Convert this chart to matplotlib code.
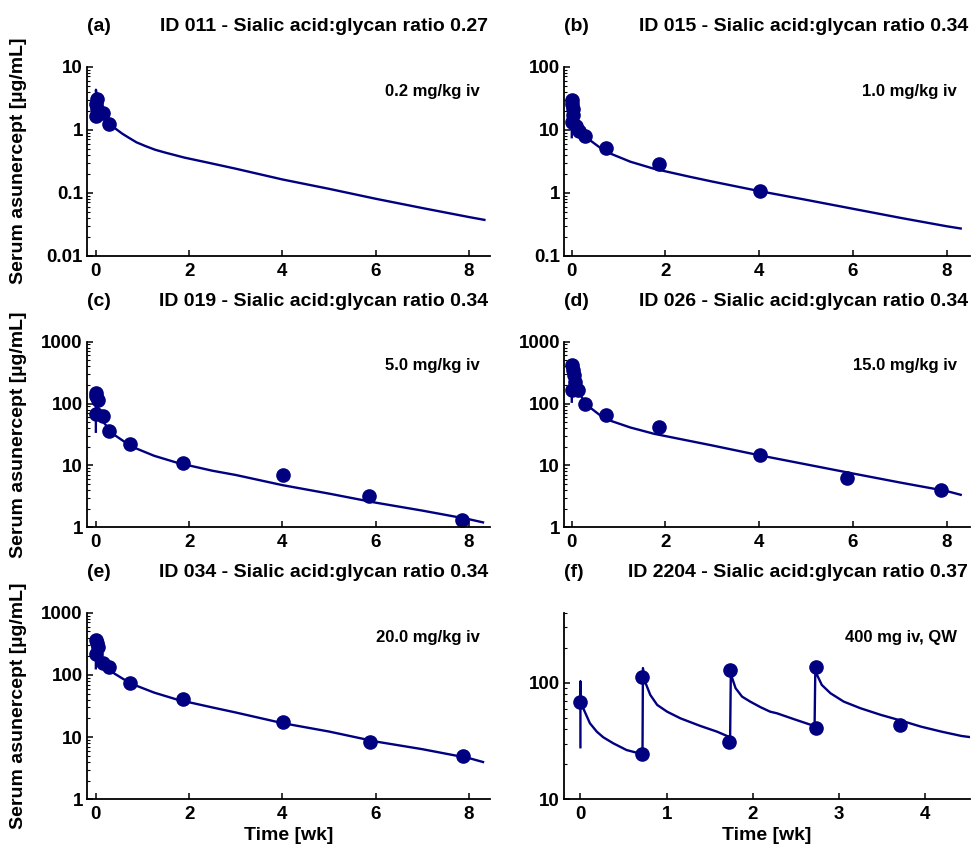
import numpy as np
import matplotlib
matplotlib.use("Agg")
import matplotlib.pyplot as plt
from matplotlib.ticker import LogLocator, NullFormatter, FixedLocator

plt.rcParams['font.family'] = ['Liberation Sans', 'DejaVu Sans']
plt.rcParams['font.weight'] = 'bold'

NAVY = '#000080'

# ---- panel texts ----
panelTags = ['(a)', '(b)', '(c)', '(d)', '(e)', '(f)']
panelTitles = ['ID 011 - Sialic acid:glycan ratio 0.27',
               'ID 015 - Sialic acid:glycan ratio 0.34',
               'ID 019 - Sialic acid:glycan ratio 0.34',
               'ID 026 - Sialic acid:glycan ratio 0.34',
               'ID 034 - Sialic acid:glycan ratio 0.34',
               'ID 2204 - Sialic acid:glycan ratio 0.37']
doseLabels = ['0.2 mg/kg iv', '1.0 mg/kg iv', '5.0 mg/kg iv',
              '15.0 mg/kg iv', '20.0 mg/kg iv', '400 mg iv, QW']

# ---- observed concentrations (time in wk, conc in ug/mL) ----
obsT_a = [0.02, 0.01, 0.02, 0.0, 0.16, 0.29]
obsC_a = [3.05, 2.6, 2.1, 1.66, 1.87, 1.22]

obsT_b = [0.0, 0.01, 0.02, 0.03, 0.0, 0.1, 0.15, 0.29, 0.73, 1.87, 4.01]
obsC_b = [30, 26, 21, 17, 13.2, 11.5, 9.5, 7.8, 5.1, 2.8, 1.08]

obsT_c = [0.0, 0.01, 0.05, 0.0, 0.16, 0.29, 0.74, 1.86, 4.02, 5.86, 7.86]
obsC_c = [148, 130, 115, 67, 62, 36, 22.5, 10.8, 7.0, 3.25, 1.3]

obsT_d = [0.0, 0.02, 0.04, 0.06, 0.0, 0.14, 0.29, 0.73, 1.87, 4.02, 5.88, 7.88]
obsC_d = [420, 345, 290, 225, 165, 165, 100, 66, 41, 15, 6.3, 4.0]

obsT_e = [0.01, 0.02, 0.04, 0.0, 0.16, 0.29, 0.74, 1.86, 4.02, 5.88, 7.88]
obsC_e = [360, 330, 285, 215, 155, 133, 73, 40.5, 17.4, 8.2, 4.9]

obsT_f = [0.0, 0.71, 0.72, 1.72, 1.74, 2.73, 2.73, 3.71]
obsC_f = [69, 24.6, 113, 31.3, 129, 40.8, 138, 43.6]

# ---- model predictions ----
fitT_a = [0.0, 0.002, 0.03, 0.08, 0.15, 0.3, 0.38, 0.45, 0.57, 0.7, 0.87, 1.06, 1.27, 1.5,
          1.9, 2.4, 3.0, 4.0, 5.0, 6.0, 7.0, 8.0, 8.33]
fitC_a = [1.5, 4.3, 2.9, 2.2, 1.7, 1.22, 1.1, 1.0, 0.86, 0.75, 0.63, 0.55, 0.48, 0.43,
          0.36, 0.30, 0.24, 0.162, 0.115, 0.080, 0.057, 0.041, 0.037]

fitT_b = [0.0, 0.002, 0.03, 0.08, 0.15, 0.3, 0.4, 0.6, 0.85, 1.25, 1.75, 2.5,
          3.0, 4.0, 5.0, 6.0, 7.0, 8.0, 8.3]
fitC_b = [7.6, 31, 20, 13, 10.2, 7.9, 6.7, 5.2, 4.1, 3.1, 2.4, 1.8,
          1.5, 1.06, 0.77, 0.555, 0.40, 0.293, 0.27]

fitT_c = [0.0, 0.002, 0.03, 0.09, 0.18, 0.3, 0.4, 0.6, 0.85, 1.25, 1.75, 2.5,
          3.0, 4.0, 5.0, 6.0, 7.0, 8.0, 8.3]
fitC_c = [35, 150, 95, 64, 48, 38, 31, 24.5, 19, 14.3, 11, 8.2,
          7.0, 4.8, 3.5, 2.5, 1.86, 1.35, 1.2]

fitT_d = [0.0, 0.002, 0.03, 0.08, 0.15, 0.3, 0.4, 0.6, 0.85, 1.25, 1.75, 2.5,
          3.0, 4.0, 5.0, 6.0, 7.0, 8.0, 8.3]
fitC_d = [107, 420, 280, 200, 150, 100, 85, 65, 52, 41, 32.5, 25,
          21, 14.6, 10.4, 7.4, 5.3, 3.85, 3.35]

fitT_e = [0.0, 0.002, 0.03, 0.1, 0.18, 0.3, 0.4, 0.6, 0.85, 1.25, 1.75, 2.5,
          3.0, 4.0, 5.0, 6.0, 7.0, 8.0, 8.3]
fitC_e = [128, 380, 260, 175, 145, 120, 105, 85, 68, 52, 40, 30,
          24.9, 16.8, 12.3, 8.5, 6.4, 4.6, 3.98]

fitT_f = [0.0, 0.0, 0.0, 0.05, 0.11, 0.19, 0.265, 0.38, 0.535, 0.71,
          0.72, 0.725, 0.755, 0.81, 0.89, 1.005, 1.16, 1.39, 1.585, 1.72,
          1.736, 1.745, 1.76, 1.80, 1.875, 1.97, 2.09, 2.2, 2.28, 2.48, 2.71,
          2.716, 2.725, 2.745, 2.80, 2.90, 3.055, 3.25, 3.485, 3.72, 3.95, 4.19, 4.42, 4.535]
fitC_f = [28, 102.6, 69, 56.6, 45, 38.1, 34.1, 30.3, 26.5, 24.5,
          24.5, 134, 100, 78.9, 64.7, 56.6, 49.6, 42.7, 38.1, 34.5,
          31.5, 129, 110, 90, 76.2, 69, 61.8, 56.6, 54.8, 48.7, 42.7,
          41, 138, 117, 96, 81.5, 69, 60.5, 53.1, 47.4, 42.1, 38.1, 35, 34.1]

obsT = [obsT_a, obsT_b, obsT_c, obsT_d, obsT_e, obsT_f]
obsC = [obsC_a, obsC_b, obsC_c, obsC_d, obsC_e, obsC_f]
fitT = [fitT_a, fitT_b, fitT_c, fitT_d, fitT_e, fitT_f]
fitC = [fitC_a, fitC_b, fitC_c, fitC_d, fitC_e, fitC_f]

yLims = [(0.01, 10), (0.1, 100), (1, 1000), (1, 1000), (1, 1000), (10, 400)]
yTicks = [[0.01, 0.1, 1, 10], [0.1, 1, 10, 100], [1, 10, 100, 1000],
          [1, 10, 100, 1000], [1, 10, 100, 1000], [10, 100]]
yTickLabels = [['0.01', '0.1', '1', '10'], ['0.1', '1', '10', '100'],
               ['1', '10', '100', '1000'], ['1', '10', '100', '1000'],
               ['1', '10', '100', '1000'], ['10', '100']]
xLims = [(-0.19, 8.45), (-0.165, 8.5), (-0.19, 8.45), (-0.165, 8.5), (-0.19, 8.45), (-0.19, 4.52)]
xTicks = [[0, 2, 4, 6, 8]] * 5 + [[0, 1, 2, 3, 4]]

# axes boxes in figure fractions
colLeft = [0.0894, 0.5797]
colWidth = [0.4142, 0.4173]
rowBottom = [0.6985, 0.3782, 0.0574]
rowHeight = [0.2229, 0.2189, 0.2200]

fig = plt.figure(figsize=(9.73, 8.48), dpi=100)

for i in range(6):
    r, c = divmod(i, 2)
    ax = fig.add_axes([colLeft[c], rowBottom[r], colWidth[c], rowHeight[r]])
    ax.plot(fitT[i], fitC[i], color=NAVY, lw=1.7)
    ax.plot(obsT[i], obsC[i], 'o', color=NAVY, ms=9.5, mec=NAVY)
    ax.set_yscale('log')
    ax.set_ylim(*yLims[i])
    ax.set_xlim(*xLims[i])
    ax.yaxis.set_major_locator(FixedLocator(yTicks[i]))
    ax.set_yticklabels(yTickLabels[i])
    ax.yaxis.set_minor_locator(LogLocator(base=10, subs=np.arange(2, 10)))
    ax.yaxis.set_minor_formatter(NullFormatter())
    ax.set_xticks(xTicks[i])
    for s in ['top', 'right']:
        ax.spines[s].set_visible(False)
    for s in ['left', 'bottom']:
        ax.spines[s].set_linewidth(1.3)
    ax.tick_params(axis='both', which='major', direction='in', length=4, width=1.1,
                   labelsize=13.5, pad=5)
    ax.tick_params(axis='y', which='major', pad=3)
    ax.tick_params(axis='y', which='minor', direction='in', length=2, width=0.8)
    for lab in ax.get_xticklabels() + ax.get_yticklabels():
        lab.set_fontweight('bold')

    ax.text(0.975 if c == 0 else 0.968, 0.87, doseLabels[i], transform=ax.transAxes,
            ha='right', va='center', fontsize=12, fontweight='bold')

    if c == 0:
        ax.set_ylabel('Serum asunercept [µg/mL]', fontsize=14, fontweight='bold')
        ax.yaxis.set_label_coords(-0.15, 0.5)
    if r == 2:
        ax.set_xlabel('Time [wk]', fontsize=14, fontweight='bold', labelpad=3)

    topY = rowBottom[r] + rowHeight[r] + 0.047
    fig.text(colLeft[c], topY, panelTags[i], ha='left', va='center',
             fontsize=14, fontweight='bold')
    fig.text(colLeft[c] + colWidth[c] - 0.002, topY, panelTitles[i], ha='right',
             va='center', fontsize=14, fontweight='bold')

fig.savefig('out.png', dpi=100)
